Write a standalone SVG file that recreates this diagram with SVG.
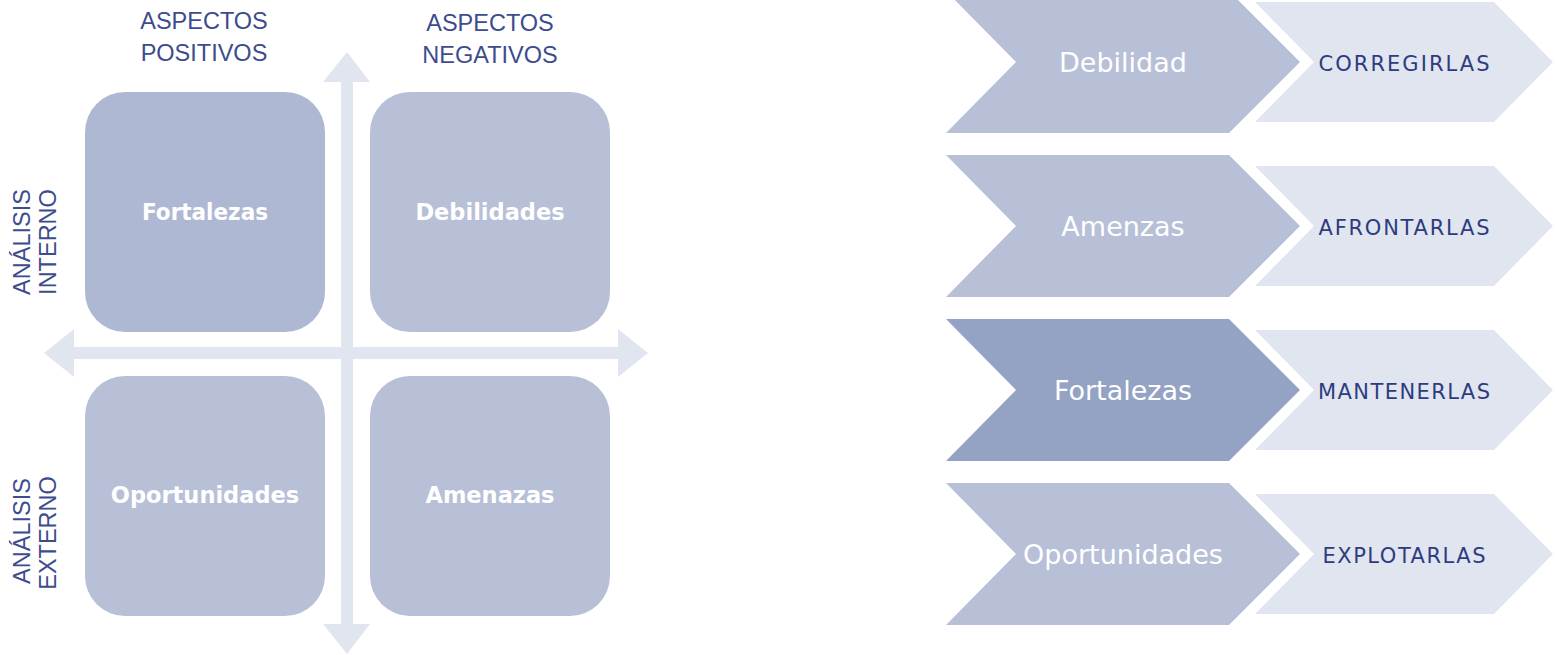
<svg xmlns="http://www.w3.org/2000/svg" width="1556" height="655" viewBox="0 0 1556 655">
<style>
.axis{fill:#E1E5EF}
.box{fill:#B8C0D8}
.boxtxt{font-family:"DejaVu Sans",sans-serif;font-weight:bold;font-size:22.5px;fill:#FFFFFF;text-anchor:middle}
.head{font-family:"Liberation Sans",Arial,sans-serif;font-size:23.5px;fill:#3D4C8E;text-anchor:middle}
.big{fill:#B8C0D8}
.small{fill:#E1E5EF}
.bigtxt{font-family:"DejaVu Sans",sans-serif;font-size:27px;fill:#FFFFFF;text-anchor:middle}
.smalltxt{font-family:"DejaVu Sans",sans-serif;font-size:21px;fill:#2D3C80;text-anchor:middle}
</style>
<rect width="1556" height="655" fill="#FFFFFF"/>
<g id="connectors">
  <polygon class="axis" points="44,353 74,329 74,347 618,347 618,329 648,353 618,377 618,359 74,359 74,377"/>
  <polygon class="axis" points="347,52 370,82 353,82 353,624 370,624 347,654 323,624 341,624 341,82 323,82"/>
</g>
<g id="labels">
  <text class="head" x="204" y="29">ASPECTOS</text>
  <text class="head" x="204" y="61">POSITIVOS</text>
  <text class="head" x="490" y="31">ASPECTOS</text>
  <text class="head" x="490" y="63">NEGATIVOS</text>
  <text class="head" transform="translate(30,242) rotate(-90)">ANÁLISIS</text>
  <text class="head" transform="translate(56,242) rotate(-90)">INTERNO</text>
  <text class="head" transform="translate(30,531) rotate(-90)">ANÁLISIS</text>
  <text class="head" transform="translate(56,533) rotate(-90)">EXTERNO</text>
</g>
<g id="fortalezas-box">
  <rect x="85" y="92" width="240" height="240" rx="40" fill="#AFB8D3"/>
  <text class="boxtxt" x="205" y="220" textLength="126" lengthAdjust="spacingAndGlyphs">Fortalezas</text>
</g>
<g id="debilidades-box">
  <rect class="box" x="370" y="92" width="240" height="240" rx="40" fill="#B8BFD8"/>
  <text class="boxtxt" x="490" y="220">Debilidades</text>
</g>
<g id="oportunidades-box">
  <rect class="box" x="85" y="376" width="240" height="240" rx="40"/>
  <text class="boxtxt" x="205" y="503">Oportunidades</text>
</g>
<g id="amenazas-box">
  <rect class="box" x="370" y="376" width="240" height="240" rx="40"/>
  <text class="boxtxt" x="490" y="503">Amenazas</text>
</g>
<g id="row-debilidad" transform="translate(0,62)">
  <polygon class="big" points="946,-71 1229,-71 1300,0 1229,71 946,71 1016,0"/>
  <text class="bigtxt" x="1123" y="10">Debilidad</text>
</g>
<g id="row-corregirlas" transform="translate(0,62)">
  <polygon class="small" points="1255,-60 1494,-60 1553,0 1494,60 1255,60 1314,0"/>
  <text class="smalltxt" x="1404" y="9" textLength="171" lengthAdjust="spacing">CORREGIRLAS</text>
</g>
<g id="row-amenzas" transform="translate(0,226)">
  <polygon class="big" points="946,-71 1229,-71 1300,0 1229,71 946,71 1016,0"/>
  <text class="bigtxt" x="1123" y="10">Amenzas</text>
</g>
<g id="row-afrontarlas" transform="translate(0,226)">
  <polygon class="small" points="1255,-60 1494,-60 1553,0 1494,60 1255,60 1314,0"/>
  <text class="smalltxt" x="1404" y="9" textLength="171" lengthAdjust="spacing">AFRONTARLAS</text>
</g>
<g id="row-fortalezas" transform="translate(0,390)">
  <polygon points="946,-71 1229,-71 1300,0 1229,71 946,71 1016,0" fill="#94A2C3"/>
  <text class="bigtxt" x="1123" y="10">Fortalezas</text>
</g>
<g id="row-mantenerlas" transform="translate(0,390)">
  <polygon class="small" points="1255,-60 1494,-60 1553,0 1494,60 1255,60 1314,0"/>
  <text class="smalltxt" x="1404" y="9" textLength="172" lengthAdjust="spacing">MANTENERLAS</text>
</g>
<g id="row-oportunidades" transform="translate(0,554)">
  <polygon class="big" points="946,-71 1229,-71 1300,0 1229,71 946,71 1016,0" fill="#B3BCD6"/>
  <text class="bigtxt" x="1123" y="10">Oportunidades</text>
</g>
<g id="row-explotarlas" transform="translate(0,554)">
  <polygon class="small" points="1255,-60 1494,-60 1553,0 1494,60 1255,60 1314,0"/>
  <text class="smalltxt" x="1404" y="9" textLength="163" lengthAdjust="spacing">EXPLOTARLAS</text>
</g>
</svg>
